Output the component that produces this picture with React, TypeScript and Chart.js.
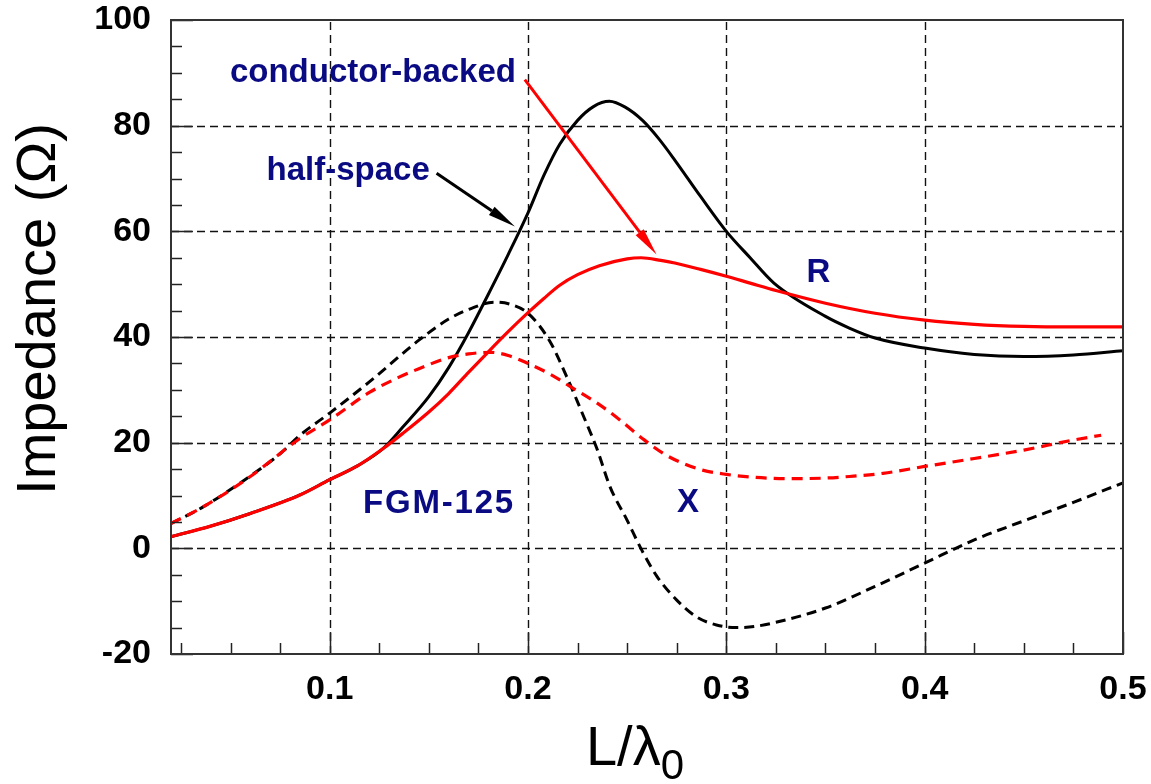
import React, { useEffect, useRef } from "react";
import { Chart, registerables } from "chart.js";

Chart.register(...registerables);

// ---- Data: impedance (Ω) versus electrical length L/λ0 ----

// Conductor-backed, resistance R
const cbR_L = [0.02, 0.04, 0.06, 0.085, 0.1, 0.114, 0.127, 0.137, 0.15, 0.16, 0.17, 0.18, 0.19, 0.2, 0.208, 0.216, 0.225, 0.236, 0.25, 0.257, 0.267, 0.274, 0.287, 0.3, 0.312, 0.325, 0.35, 0.375, 0.4, 0.425, 0.45, 0.475, 0.5];
const cbR = [2.2, 4.2, 6.6, 10.1, 13.0, 15.6, 18.9, 21.8, 25.8, 29.3, 33.3, 37.2, 41.0, 44.6, 47.3, 49.8, 51.8, 53.5, 54.8, 55.0, 54.5, 54.0, 52.8, 51.5, 50.2, 48.8, 46.4, 44.5, 43.2, 42.4, 42.0, 41.9, 41.9];

// Half-space, resistance R
const hsR_L = [0.02, 0.04, 0.06, 0.085, 0.1, 0.114, 0.127, 0.137, 0.15, 0.16, 0.17, 0.18, 0.19, 0.2, 0.208, 0.216, 0.225, 0.233, 0.241, 0.249, 0.258, 0.266, 0.274, 0.287, 0.3, 0.312, 0.324, 0.35, 0.362, 0.375, 0.4, 0.425, 0.45, 0.475, 0.5];
const hsR = [2.2, 4.2, 6.6, 10.1, 13.0, 15.6, 18.9, 23.0, 28.7, 34.2, 40.8, 48.1, 55.6, 63.5, 70.6, 76.5, 81.0, 83.6, 84.6, 83.5, 80.9, 77.5, 73.5, 66.6, 60.0, 55.0, 50.2, 43.9, 41.7, 39.8, 37.9, 36.7, 36.3, 36.6, 37.4];

// Conductor-backed, reactance X
const cbX_L = [0.02, 0.036, 0.06, 0.085, 0.1, 0.12, 0.135, 0.145, 0.16, 0.17, 0.181, 0.19, 0.2, 0.211, 0.221, 0.236, 0.246, 0.258, 0.268, 0.278, 0.288, 0.3, 0.312, 0.33, 0.35, 0.362, 0.379, 0.4, 0.425, 0.45, 0.475, 0.489];
const cbX = [4.7, 7.8, 13.6, 20.8, 24.3, 29.5, 32.4, 34.0, 36.1, 36.8, 37.1, 36.5, 35.0, 33.0, 30.7, 27.2, 24.4, 20.7, 18.0, 16.1, 14.8, 14.0, 13.5, 13.2, 13.3, 13.6, 14.2, 15.5, 17.0, 18.6, 20.5, 21.4];

// Half-space, reactance X
const hsX_L = [0.02, 0.036, 0.06, 0.075, 0.085, 0.1, 0.12, 0.145, 0.16, 0.17, 0.183, 0.192, 0.2, 0.211, 0.2195, 0.228, 0.235, 0.2413, 0.25, 0.2573, 0.265, 0.275, 0.285, 0.295, 0.305, 0.314, 0.325, 0.35, 0.375, 0.4, 0.425, 0.45, 0.475, 0.5];
const hsX = [4.7, 7.8, 13.7, 17.9, 21.4, 25.6, 31.5, 39.4, 43.4, 45.2, 46.6, 46.1, 44.5, 39.2, 32.5, 25.0, 18.6, 11.7, 5.3, -0.3, -5.3, -9.8, -13.0, -14.5, -15.0, -14.8, -14.0, -11.3, -7.2, -2.8, 1.6, 5.2, 8.7, 12.4];

// Axis ticks
const xTickValues = [0.1, 0.2, 0.3, 0.4, 0.5];
const yTickValues = [-20, 0, 20, 40, 60, 80, 100];
const xMinorStep = 0.025;
const yMinorStep = 5;

// In-plot labels, anchored in data units (left edge, baseline)
const labelTexts = ["conductor-backed", "half-space", "R", "X", "FGM-125"];
const labelL = [0.0497, 0.0682, 0.3404, 0.2751, 0.1168];
const labelZ = [88.2, 69.8, 50.5, 6.9, 6.7];
const labelSpacing = [0, 0, 0, 0, 1.8];

// Pointer arrows (tail -> tip), in data units
const arrowColors = ["#000000", "#ff0000"];
const arrowFromL = [0.1539, 0.1984];
const arrowFromZ = [71.0, 88.7];
const arrowToL = [0.1934, 0.2648];
const arrowToZ = [60.9, 55.6];

const FONT = '"Liberation Sans", Arial, Helvetica, sans-serif';
const NAVY = "#0a0a82";

const pts = (xs: number[], ys: number[]) => xs.map((x, i) => ({ x, y: ys[i] }));

const decorPlugin = {
  id: "decor",
  beforeDatasetsDraw(chart: any) {
    const { ctx, chartArea: a, scales } = chart;
    const xs = scales.x;
    const ys = scales.y;
    ctx.save();
    ctx.strokeStyle = "#111";
    ctx.lineWidth = 1.4;
    ctx.setLineDash([8, 5]);
    for (const v of xTickValues) {
      const px = Math.round(xs.getPixelForValue(v)) + 0.5;
      if (px > a.right - 3) continue;
      ctx.beginPath();
      ctx.moveTo(px, a.bottom);
      ctx.lineTo(px, a.top);
      ctx.stroke();
    }
    for (const v of yTickValues) {
      const py = Math.round(ys.getPixelForValue(v)) + 0.5;
      if (py < a.top + 3 || py > a.bottom - 3) continue;
      ctx.beginPath();
      ctx.moveTo(a.left, py);
      ctx.lineTo(a.right, py);
      ctx.stroke();
    }
    ctx.restore();
  },
  afterDatasetsDraw(chart: any) {
    const { ctx, chartArea: a, scales } = chart;
    const xs = scales.x;
    const ys = scales.y;
    ctx.save();
    ctx.setLineDash([]);
    ctx.strokeStyle = "#222";
    ctx.lineWidth = 1.5;
    // minor + major ticks on the bottom axis (pointing inward)
    const x0 = xs.min, x1 = xs.max;
    for (let k = Math.ceil(x0 / xMinorStep); k * xMinorStep <= x1 + 1e-9; k++) {
      const v = +(k * xMinorStep).toFixed(4);
      const isMajor = xTickValues.some((t) => Math.abs(t - v) < 1e-6);
      const px = Math.round(xs.getPixelForValue(v)) + 0.5;
      const len = isMajor ? 22 : 11;
      ctx.beginPath();
      ctx.moveTo(px, a.bottom);
      ctx.lineTo(px, a.bottom - len);
      ctx.stroke();
    }
    // minor + major ticks on the left axis
    for (let v = ys.min; v <= ys.max + 1e-9; v += yMinorStep) {
      const isMajor = yTickValues.includes(v);
      const py = Math.round(ys.getPixelForValue(v)) + 0.5;
      const len = isMajor ? 22 : 11;
      ctx.beginPath();
      ctx.moveTo(a.left, py);
      ctx.lineTo(a.left + len, py);
      ctx.stroke();
    }
    // frame
    ctx.strokeStyle = "#333";
    ctx.lineWidth = 2;
    ctx.strokeRect(a.left, a.top, a.right - a.left, a.bottom - a.top);
    ctx.restore();
  },
  afterDraw(chart: any) {
    const { ctx, chartArea: a, scales } = chart;
    const xs = scales.x;
    const ys = scales.y;
    ctx.save();

    // arrows
    for (let i = 0; i < arrowColors.length; i++) {
      const sx = xs.getPixelForValue(arrowFromL[i]);
      const sy = ys.getPixelForValue(arrowFromZ[i]);
      const tx = xs.getPixelForValue(arrowToL[i]);
      const ty = ys.getPixelForValue(arrowToZ[i]);
      const ang = Math.atan2(ty - sy, tx - sx);
      const headLen = 28;
      const headHalf = 5;
      const bx = tx - headLen * Math.cos(ang);
      const by = ty - headLen * Math.sin(ang);
      ctx.strokeStyle = arrowColors[i];
      ctx.fillStyle = arrowColors[i];
      ctx.lineWidth = 3;
      ctx.beginPath();
      ctx.moveTo(sx, sy);
      ctx.lineTo(bx, by);
      ctx.stroke();
      ctx.beginPath();
      ctx.moveTo(tx, ty);
      ctx.lineTo(bx - headHalf * Math.sin(ang), by + headHalf * Math.cos(ang));
      ctx.lineTo(bx + headHalf * Math.sin(ang), by - headHalf * Math.cos(ang));
      ctx.closePath();
      ctx.fill();
    }

    // in-plot labels
    ctx.fillStyle = NAVY;
    ctx.font = `bold 33px ${FONT}`;
    ctx.textAlign = "left";
    ctx.textBaseline = "alphabetic";
    for (let i = 0; i < labelTexts.length; i++) {
      (ctx as any).letterSpacing = `${labelSpacing[i]}px`;
      ctx.fillText(labelTexts[i], xs.getPixelForValue(labelL[i]), ys.getPixelForValue(labelZ[i]));
    }
    (ctx as any).letterSpacing = "0px";

    // y-axis title
    ctx.fillStyle = "#000";
    ctx.save();
    ctx.translate(55, (a.top + a.bottom) / 2 - 28);
    ctx.rotate(-Math.PI / 2);
    ctx.font = `56px ${FONT}`;
    ctx.textAlign = "center";
    ctx.textBaseline = "alphabetic";
    ctx.fillText("Impedance (\u03A9)", 0, 0);
    ctx.restore();

    // x-axis title with subscript
    ctx.font = `56px ${FONT}`;
    const main = "L/\u03BB";
    const wMain = ctx.measureText(main).width;
    ctx.font = `42px ${FONT}`;
    const wSub = ctx.measureText("0").width;
    const startX = (a.left + a.right) / 2 - 12 - (wMain + wSub) / 2;
    ctx.font = `56px ${FONT}`;
    ctx.textAlign = "left";
    ctx.fillText(main, startX, 765);
    ctx.font = `42px ${FONT}`;
    ctx.fillText("0", startX + wMain, 779);

    ctx.restore();
  },
};

export default function App() {
  const canvasRef = useRef<HTMLCanvasElement | null>(null);

  useEffect(() => {
    const canvas = canvasRef.current;
    if (!canvas) return;
    const chart = new Chart(canvas, {
      type: "line",
      data: {
        datasets: [
          {
            label: "R conductor-backed",
            data: pts(cbR_L, cbR),
            borderColor: "#ff0000",
            borderWidth: 3.2,
            pointRadius: 0,
            cubicInterpolationMode: "monotone",
            fill: false,
          },
          {
            label: "X conductor-backed",
            data: pts(cbX_L, cbX),
            borderColor: "#ff0000",
            borderWidth: 3.2,
            borderDash: [11, 7],
            pointRadius: 0,
            cubicInterpolationMode: "monotone",
            fill: false,
          },
          {
            label: "R half-space",
            data: pts(hsR_L, hsR),
            borderColor: "#000000",
            borderWidth: 3,
            pointRadius: 0,
            cubicInterpolationMode: "monotone",
            fill: false,
          },
          {
            label: "X half-space",
            data: pts(hsX_L, hsX),
            borderColor: "#000000",
            borderWidth: 3,
            borderDash: [10, 6],
            pointRadius: 0,
            cubicInterpolationMode: "monotone",
            fill: false,
          },
        ],
      },
      options: {
        responsive: false,
        animation: false,
        devicePixelRatio: 1,
        layout: { padding: { top: 20, right: 28, left: 0, bottom: 0 } },
        plugins: {
          legend: { display: false },
          tooltip: { enabled: false },
          title: { display: false },
        },
        scales: {
          x: {
            type: "linear",
            min: 0.02,
            max: 0.5,
            grid: { display: false, drawTicks: false },
            border: { display: false },
            afterBuildTicks: (s: any) => {
              s.ticks = xTickValues.map((value) => ({ value }));
            },
            afterFit: (s: any) => {
              s.height = 130;
              s.paddingLeft = 0;
              s.paddingRight = 0;
              s.paddingTop = 0;
              s.paddingBottom = 0;
            },
            ticks: {
              padding: 15,
              color: "#000",
              font: { family: FONT, size: 34, weight: "bold" },
              callback: (v: any) => Number(v).toFixed(1),
              maxRotation: 0,
              autoSkip: false,
            },
          },
          y: {
            type: "linear",
            min: -20,
            max: 100,
            grid: { display: false, drawTicks: false },
            border: { display: false },
            afterBuildTicks: (s: any) => {
              s.ticks = yTickValues.map((value) => ({ value }));
            },
            afterFit: (s: any) => {
              s.width = 171;
              s.paddingLeft = 0;
              s.paddingRight = 0;
              s.paddingTop = 0;
              s.paddingBottom = 0;
            },
            ticks: {
              padding: 20,
              color: "#000",
              font: { family: FONT, size: 34, weight: "bold" },
              callback: (v: any) => String(v),
              autoSkip: false,
            },
          },
        },
      },
      plugins: [decorPlugin],
    });
    return () => chart.destroy();
  }, []);

  return (
    <div
      style={{
        position: "fixed",
        left: 0,
        top: 0,
        width: 1151,
        height: 784,
        background: "#fff",
      }}
    >
      <canvas ref={canvasRef} width={1151} height={784} style={{ width: 1151, height: 784, display: "block" }} />
    </div>
  );
}
